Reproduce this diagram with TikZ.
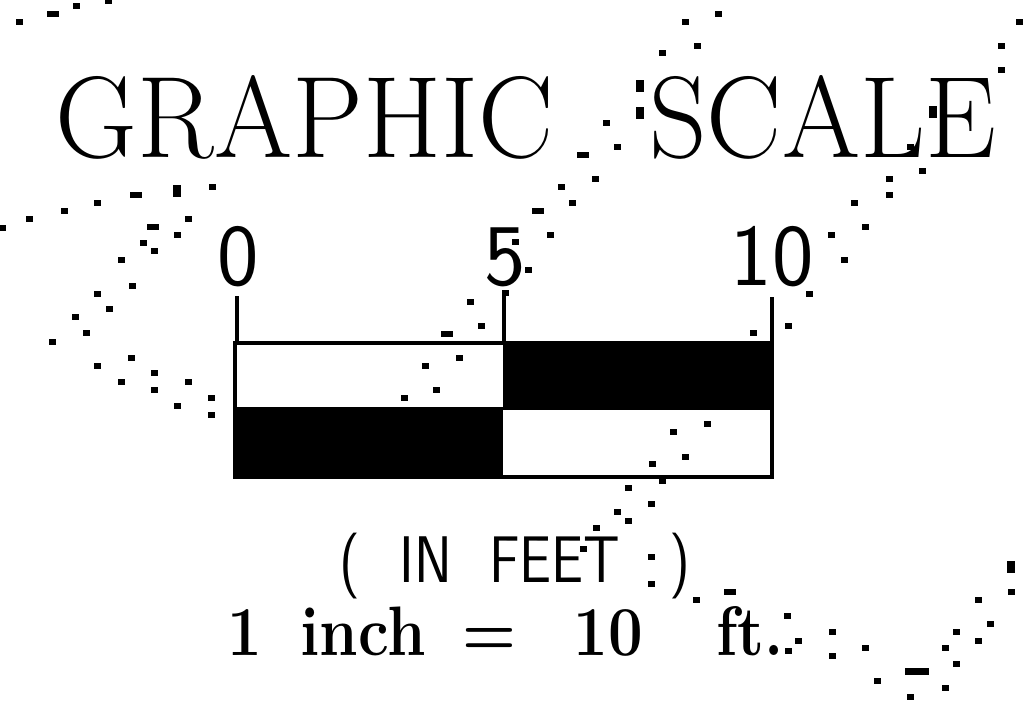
\documentclass[tikz,border=0pt]{standalone}
\usepackage{graphicx}
\usetikzlibrary{positioning}
\tikzset{
  every node/.style={inner sep=0pt,outer sep=0pt},
  ttl/.style={anchor=base,font=\fontsize{58}{60}\selectfont},
  num/.style={anchor=base,font=\sffamily\fontsize{44}{46}\selectfont},
  unitlbl/.style={anchor=base,font=\sffamily\fontsize{31.7}{34}\selectfont},
  ratiolbl/.style={anchor=base,font=\bfseries\fontsize{35}{38}\selectfont},
  rule/.style={line width=2pt},
}

\begin{document}
\begin{tikzpicture}[x=0.5pt,y=-0.5pt]
  \useasboundingbox (0,0) rectangle (1023,720);
  \node[ttl] (title) at (526,157) {\resizebox{470pt}{41pt}{GRAPHIC\hspace{0.85em}SCALE}};
  \node[num] (n0) at (238,285) {0};
  \node[num] (n5) at (505,285) {5};
  \node[num] (n10) at (772,285) {10};
  \coordinate (barNW) at (235,343);
  \coordinate (barSE) at (772,477);
  \coordinate (mid) at (503,410);
  \fill (mid |- barNW) rectangle (barSE |- mid);
  \fill (barNW |- 0,407) rectangle (mid |- barSE);
  \draw[rule] (barNW) rectangle (barSE);
  \foreach \t/\x/\y in {t0/237/296,t5/504/291,t10/772/297} {
    \coordinate (\t) at (\x,\y);
    \draw[rule] (\t) -- (\t |- barNW);
  }
  \node[unitlbl] (units) at (515,582) {\scalebox{0.9}[1.04]{(\hspace{0.69em}IN\hspace{0.65em}FEET\hspace{0.86em})}};
  \node[ratiolbl] (ratio) at (506,655) {\scalebox{0.88}[1]{1\hspace{0.62em}inch\hspace{0.59em}=\hspace{0.93em}10\hspace{1.2em}ft.}};
  \foreach \x/\y in {19/22,76/6,108/1,2/228,29/219,64/211,97/203,212/187,188/219,177/235,143/243,154/251,
    121/260,132/286,97/294,109/309,75/317,86/333,52/342,131/358,97/366,154/373,121/382,188/382,154/390,
    211/398,177/406,211/415,718/14,685/22,697/46,662/53,606/123,617/147,595/179,561/187,572/203,550/235,
    515/242,528/270,505/293,470/302,481/326,459/358,425/366,436/390,404/398,1019/22,1001/46,1001/70,
    910/147,922/171,889/179,889/195,854/203,865/227,831/235,844/260,809/294,788/326,753/333,707/424,
    673/432,685/457,652/464,662/481,628/488,651/504,617/512,628/521,596/528,583/549,651/557,651/584,
    696/600,787/616,798/641,788/651,832/632,832/656,865/648,877/681,910/697,945/648,956/632,956/664,
    945/688,978/600,978/641,990/624,1011/592}
    \fill ({\x-3.5},{\y-3}) rectangle ++(7,6);
  \foreach \x/\y in {53/14,136/195,153/227,583/155,538/211,447/334,730/592}
    \fill ({\x-6},{\y-3}) rectangle ++(12,6);
  \foreach \x/\y in {177/191,1011/567,640/86,640/113,933/112}
    \fill ({\x-4},{\y-6}) rectangle ++(8,12);
  \fill (905,668) rectangle ++(24,7);
\end{tikzpicture}
\end{document}
